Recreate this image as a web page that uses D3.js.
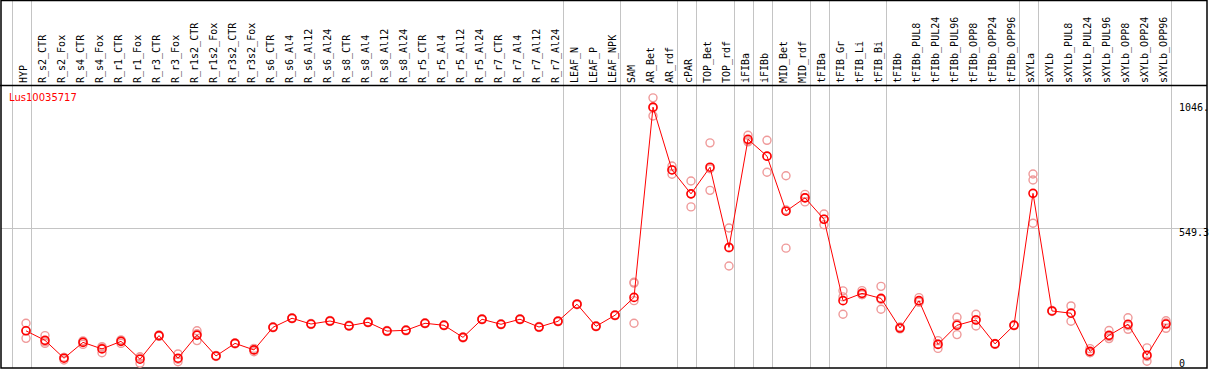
<!DOCTYPE html>
<html>
<head>
<meta charset="utf-8">
<script src="https://cdn.jsdelivr.net/npm/d3@7"></script>
<style>
  html, body { margin: 0; padding: 0; background: #fff; }
  svg { display: block; }
</style>
</head>
<body>
<div id="chart"></div>
<script>
// ---- data ----
const geneName = 'Lus10035717';

const samples = [
  'HYP', 'R_s2_CTR', 'R_s2_Fox', 'R_s4_CTR', 'R_s4_Fox', 'R_r1_CTR', 'R_r1_Fox',
  'R_r3_CTR', 'R_r3_Fox', 'R_r1s2_CTR', 'R_r1s2_Fox', 'R_r3s2_CTR', 'R_r3s2_Fox',
  'R_s6_CTR', 'R_s6_Al4', 'R_s6_Al12', 'R_s6_Al24', 'R_s8_CTR', 'R_s8_Al4',
  'R_s8_Al12', 'R_s8_Al24', 'R_r5_CTR', 'R_r5_Al4', 'R_r5_Al12', 'R_r5_Al24',
  'R_r7_CTR', 'R_r7_Al4', 'R_r7_Al12', 'R_r7_Al24', 'LEAF_N', 'LEAF_P', 'LEAF_NPK',
  'SAM', 'AR_Bet', 'AR_rdf', 'cPAR', 'TOP_Bet', 'TOP_rdf', 'iFIBa', 'iFIBb',
  'MID_Bet', 'MID_rdf', 'tFIBa', 'tFIB_Gr', 'tFIB_Li', 'tFIB_Bi', 'tFIBb',
  'tFIBb_PUL8', 'tFIBb_PUL24', 'tFIBb_PUL96', 'tFIBb_OPP8', 'tFIBb_OPP24', 'tFIBb_OPP96',
  'sXYLa', 'sXYLb', 'sXYLb_PUL8', 'sXYLb_PUL24', 'sXYLb_PUL96', 'sXYLb_OPP8',
  'sXYLb_OPP24', 'sXYLb_OPP96'
];

const meanValues = [
  140, 102, 31, 94, 68, 98, 27, 121, 31, 123, 40, 90, 64,
  154, 190, 167, 179, 160, 174, 139, 142, 170, 162, 114, 186,
  166, 186, 155, 178, 246, 158, 202,
  273, 1030, 780, 685, 791, 472, 902, 835,
  616, 669, 584, 260, 289, 269, 151,
  260, 86, 162, 183, 88, 162,
  687, 219, 210, 58, 122, 166, 43, 167
];

const replicateValues = [
  [170, 110, 141], [121, 90, 96], [24, 34, 34], [86, 100, 97], [53, 77, 73],
  [90, 104, 101], [11, 37, 32], [124, 118, 120], [48, 17, 27], [140, 101, 129],
  [42, 38, 39], [92, 88, 91], [57, 70, 64],
  [156, 152, 154], [192, 188, 190], [169, 165, 167], [181, 177, 179], [162, 158, 160],
  [176, 172, 174], [141, 137, 139], [144, 140, 142], [172, 168, 170], [164, 160, 162],
  [116, 112, 114], [188, 184, 186], [168, 164, 166], [188, 184, 186], [157, 153, 155],
  [180, 176, 178], [248, 244, 246], [160, 156, 158], [204, 200, 202],
  [333, 330, 260, 170], [1067, 995, 1027], [796, 763, 781], [736, 633, 685],
  [888, 699, 785], [549, 398, 470], [918, 892, 897], [898, 771, 834],
  [757, 469, 621], [683, 653, 670], [605, 562, 584], [299, 206, 275],
  [300, 284, 284], [317, 226, 265], [151, 148, 155],
  [272, 254, 254], [101, 70, 88], [194, 125, 168], [206, 159, 184], [90, 86, 87],
  [162, 160, 164],
  [764, 740, 568], [219, 217, 221], [239, 178, 212], [69, 54, 53], [141, 109, 117],
  [192, 146, 160], [72, 19, 38], [180, 150, 171]
];

// last sample of each group (vertical separators drawn after them)
const groupEnds = ['HYP', 'R_r7_Al24', 'LEAF_NPK', 'AR_rdf', 'cPAR', 'TOP_rdf', 'iFIBa',
  'iFIBb', 'MID_rdf', 'tFIBa', 'tFIB_Bi', 'tFIBb_OPP96', 'sXYLa', 'sXYLb_OPP96'];

const yTicks = [0, 549.3, 1046];
const yTickLabels = ['0', '549.3', '1046.'];

// ---- layout ----
const W = 1209, H = 370;
const headerY = 85, bottomY = 368, leftX = 1, rightX = 1207;

const svg = d3.select('#chart').append('svg')
  .attr('width', W).attr('height', H);

const x = d3.scalePoint().domain(samples).range([26, 1166]);
const step = x.step();
const y = d3.scaleLinear().domain([0, 1046.5]).range([366, 103]);

const grid = '#c4c4c4';

// vertical separators
const seps = [x(samples[0]) - step].concat(groupEnds.map(d => x(d)));
svg.append('g')
  .selectAll('line')
  .data(seps)
  .join('line')
  .attr('x1', d => Math.round(d + 4.5) + 0.5)
  .attr('x2', d => Math.round(d + 4.5) + 0.5)
  .attr('y1', 0).attr('y2', bottomY)
  .attr('stroke', grid).attr('stroke-width', 1);

// horizontal mid grid line
svg.append('line')
  .attr('x1', leftX).attr('x2', rightX)
  .attr('y1', Math.round(y(yTicks[1])) + 0.5)
  .attr('y2', Math.round(y(yTicks[1])) + 0.5)
  .attr('stroke', grid).attr('stroke-width', 1);

// frame
svg.append('rect')
  .attr('x', leftX).attr('y', 0.5)
  .attr('width', rightX - leftX).attr('height', bottomY - 0.5)
  .attr('fill', 'none').attr('stroke', '#000').attr('stroke-width', 1.5);
svg.append('line')
  .attr('x1', 0).attr('x2', rightX)
  .attr('y1', headerY + 0.5).attr('y2', headerY + 0.5)
  .attr('stroke', '#000').attr('stroke-width', 1.3);

// column labels (rotated)
svg.append('g')
  .selectAll('text')
  .data(samples)
  .join('text')
  .attr('transform', d => `translate(${x(d) + 1},83) rotate(-90)`)
  .attr('font-family', 'DejaVu Sans Mono, monospace')
  .attr('font-size', 10)
  .attr('fill', '#000')
  .text(d => d);

// gene name
svg.append('text')
  .attr('x', 9).attr('y', 101)
  .attr('font-family', 'DejaVu Sans, sans-serif')
  .attr('font-size', 10)
  .attr('fill', '#ff0000')
  .text(geneName);

// y labels on the right
svg.append('g')
  .selectAll('text')
  .data(yTicks)
  .join('text')
  .attr('x', 1179)
  .attr('y', (d, i) => i === 0 ? y(d) + 0.5 : y(d) + 8)
  .attr('font-family', 'DejaVu Sans Mono, monospace')
  .attr('font-size', 10)
  .attr('fill', '#000')
  .text((d, i) => yTickLabels[i]);

// replicate circles
const reps = [];
samples.forEach((s, i) => replicateValues[i].forEach(v => reps.push({ s, v })));
svg.append('g')
  .selectAll('circle')
  .data(reps)
  .join('circle')
  .attr('cx', d => x(d.s))
  .attr('cy', d => y(d.v))
  .attr('r', 4)
  .attr('fill', 'none')
  .attr('stroke', '#ef9a9a')
  .attr('stroke-width', 1.4);

// mean line
const points = samples.map((s, i) => [x(s), y(meanValues[i])]);
svg.append('path')
  .attr('d', d3.line()(points))
  .attr('fill', 'none')
  .attr('stroke', '#ff0000')
  .attr('stroke-width', 1);

// mean circles
svg.append('g')
  .selectAll('circle')
  .data(points)
  .join('circle')
  .attr('cx', d => d[0])
  .attr('cy', d => d[1])
  .attr('r', 4)
  .attr('fill', 'none')
  .attr('stroke', '#ff0000')
  .attr('stroke-width', 1.6);
</script>
</body>
</html>
